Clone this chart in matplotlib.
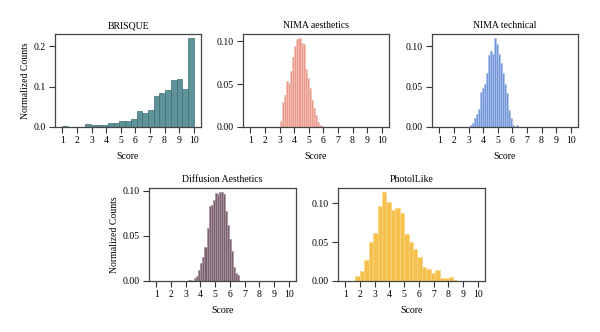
import numpy as np
import matplotlib
matplotlib.use("Agg")
import matplotlib.pyplot as plt

plt.rcParams['font.family'] = ['Liberation Serif', 'DejaVu Serif']

# ---- data (normalized counts per bin) ----
brisque_start, brisque_width = 1.0, 0.3913
brisque_vals = [0.003, 0.0, 0.0, 0.0, 0.0066, 0.004, 0.004, 0.005, 0.010, 0.010,
                0.016, 0.014, 0.020, 0.039, 0.034, 0.043, 0.077, 0.085, 0.091,
                0.116, 0.1185, 0.093, 0.219]

nima_aes_start, nima_aes_width = 3.04, 0.14
nima_aes_vals = [0.007, 0.029, 0.037, 0.053, 0.051, 0.065, 0.081, 0.094, 0.102,
                 0.103, 0.098, 0.096, 0.067, 0.057, 0.045, 0.031, 0.022, 0.014,
                 0.006, 0.002, 0.001]

nima_tech_start, nima_tech_width = 3.08, 0.137
nima_tech_vals = [0.003, 0.005, 0.011, 0.016, 0.022, 0.044, 0.048, 0.054, 0.067,
                  0.089, 0.095, 0.091, 0.110, 0.103, 0.091, 0.079, 0.067, 0.054,
                  0.042, 0.021, 0.011, 0.003, 0.0, 0.002]

diff_start, diff_width = 3.17, 0.138
diff_vals = [0.001, 0.001, 0.0005, 0.003, 0.006, 0.012, 0.020, 0.027, 0.038, 0.059,
             0.083, 0.084, 0.090, 0.097, 0.096, 0.098, 0.098, 0.096, 0.077, 0.062,
             0.047, 0.033, 0.016, 0.009, 0.007]

photo_start, photo_width = 1.68, 0.302
photo_vals = [0.007, 0.013, 0.027, 0.050, 0.062, 0.097, 0.114, 0.102, 0.092, 0.094,
              0.087, 0.060, 0.050, 0.041, 0.031, 0.018, 0.015, 0.010, 0.014, 0.004,
              0.004, 0.005, 0.001]

titles = ["BRISQUE", "NIMA aesthetics", "NIMA technical", "Diffusion Aesthetics", "PhotolLike"]
xticks = list(range(1, 11))

panels = [
    (brisque_start, brisque_width, brisque_vals, "#5e9399", "#3f6e74"),
    (nima_aes_start, nima_aes_width, nima_aes_vals, "#e99a8b", "#f3c2b8"),
    (nima_tech_start, nima_tech_width, nima_tech_vals, "#7698d9", "#a9bfea"),
    (diff_start, diff_width, diff_vals, "#7a616d", "#a8949e"),
    (photo_start, photo_width, photo_vals, "#f5c14c", "#f8d686"),
]

W, H = 600, 332
fig = plt.figure(figsize=(6.0, 3.32), dpi=100)

def box(l, t, r, b):
    return [l / W, 1 - b / H, (r - l) / W, (b - t) / H]

rects = [box(55, 34, 201, 127), box(243, 34, 389, 127), box(432, 34, 578, 127),
         box(149, 188, 296, 281), box(338, 188, 485, 281)]

yticks = [[0.0, 0.1, 0.2], [0.0, 0.05, 0.10], [0.0, 0.05, 0.10],
          [0.0, 0.05, 0.10], [0.0, 0.05, 0.10]]
yfmt = ["{:.1f}", "{:.2f}", "{:.2f}", "{:.2f}", "{:.2f}"]

FS = 7
for i, ((start, width, vals, fc, ec), rect) in enumerate(zip(panels, rects)):
    ax = fig.add_axes(rect)
    lefts = start + width * np.arange(len(vals))
    ax.bar(lefts, vals, width=width, align='edge', color=fc, edgecolor=ec,
           linewidth=0.5)
    ax.set_xlim(0.5, 10.5)
    ax.set_ylim(0, max(vals) * 1.05)
    ax.set_xticks(xticks)
    ax.set_xticklabels([str(t) for t in xticks], fontsize=FS)
    ax.set_yticks(yticks[i])
    ax.set_yticklabels([yfmt[i].format(v) for v in yticks[i]], fontsize=FS)
    ax.tick_params(direction='out', length=4, width=0.8, color='#333333', pad=2.5)
    for s in ax.spines.values():
        s.set_linewidth(0.9)
        s.set_color('#444444')
    ax.set_title(titles[i], fontsize=FS, pad=4)
    ax.set_xlabel("Score", fontsize=FS, labelpad=5)
    if i in (0, 3):
        ax.set_ylabel("Normalized Counts", fontsize=FS, labelpad=3)

fig.savefig("out.png", dpi=100)
